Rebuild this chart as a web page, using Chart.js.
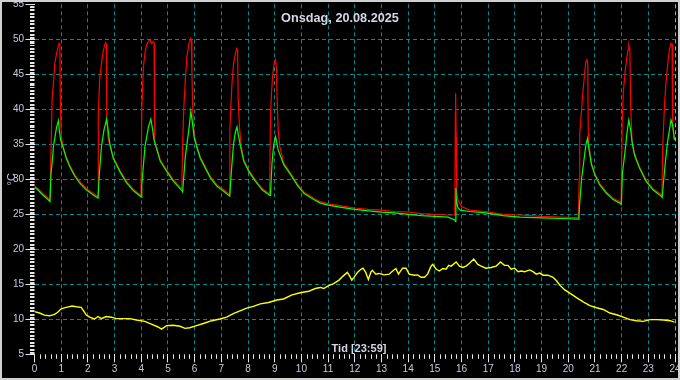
<!DOCTYPE html>
<html><head><meta charset="utf-8">
<script src="https://cdn.jsdelivr.net/npm/chart.js@4/dist/chart.umd.min.js"></script>
<style>html,body{margin:0;padding:0;background:#000;overflow:hidden}#wrap{width:680px;height:380px;position:relative}</style>
</head><body><div id="wrap"><canvas id="c" width="680" height="380"></canvas></div>
<script>
// ---- data (hours of day / °C) ----
const redHours = [0.0,0.15,0.3,0.45,0.58,0.6,0.63,0.66,0.71,0.76,0.84,0.89,0.92,0.95,0.97,1.01,1.06,1.19,1.31,1.5,1.69,1.94,2.19,2.38,
 2.39,2.44,2.51,2.57,2.63,2.67,2.69,2.71,2.76,2.82,2.95,3.2,3.45,3.7,3.99,
 4.02,4.08,4.14,4.2,4.27,4.33,4.39,4.45,4.48,4.5,4.71,4.96,5.21,5.52,
 5.55,5.59,5.65,5.71,5.79,5.85,5.88,5.9,5.93,5.98,6.0,6.09,6.21,6.4,6.59,6.84,7.09,7.31,
 7.32,7.35,7.4,7.46,7.53,7.58,7.61,7.63,7.68,7.74,7.84,8.03,8.28,8.53,8.81,
 8.84,8.88,8.93,8.99,9.03,9.06,9.09,9.13,9.19,9.34,9.59,9.84,10.09,10.46,10.71,
 11.0,11.5,12.0,12.5,13.0,13.5,14.0,14.5,15.0,15.5,15.75,
 15.77,15.78,15.8,15.82,15.87,16.0,16.3,16.9,17.55,18.2,19.0,19.7,20.38,
 20.41,20.43,20.5,20.56,20.62,20.66,20.7,20.73,20.75,20.77,20.87,20.99,21.18,21.43,21.68,21.93,21.98,
 22.0,22.02,22.07,22.14,22.2,22.24,22.27,22.31,22.34,22.39,22.48,22.67,22.92,23.17,23.48,23.51,
 23.54,23.61,23.66,23.73,23.79,23.85,23.89,23.91,23.95,23.98];
const redTemps = [29.0,28.6,28.0,27.5,27.0,31.1,36.0,41.6,43.7,46.6,48.2,49.0,49.4,49.2,39.9,36.0,34.9,33.2,32.1,30.7,29.7,28.7,28.0,27.5,
 39.0,44.2,46.6,48.2,49.2,49.5,49.3,38.5,35.8,35.0,33.2,31.3,29.7,28.6,27.7,
 39.9,46.1,48.0,49.2,49.7,49.9,49.4,49.7,49.5,35.6,32.8,31.3,29.9,28.6,
 34.7,39.9,44.2,47.5,49.4,50.1,49.8,45.0,39.9,36.5,36.1,34.7,33.2,31.8,30.4,29.2,28.5,27.8,
 37.0,39.9,43.7,46.6,48.0,48.7,48.5,41.8,37.5,34.9,32.8,31.3,29.9,28.7,27.9,
 38.7,42.3,45.1,46.8,47.1,46.0,41.8,37.0,34.7,32.3,30.9,29.4,28.2,27.3,26.8,
 26.5,26.2,25.9,25.7,25.6,25.4,25.3,25.1,25.0,24.9,24.9,
 39.5,42.3,36.0,28.2,27.0,26.1,25.6,25.4,25.0,24.9,24.7,24.6,24.5,
 30.0,36.6,39.9,43.0,45.4,46.8,47.1,46.5,36.6,35.1,32.3,30.9,29.4,28.2,27.3,26.8,26.6,
 26.6,38.1,42.8,45.7,47.5,48.5,49.2,48.5,40.3,35.6,33.7,31.8,29.9,28.7,27.8,27.6,
 34.7,40.9,43.7,46.6,48.5,49.4,49.3,38.0,36.5,35.6];

const greenHours = [0.0,0.15,0.3,0.45,0.58,0.62,0.66,0.71,0.77,0.83,0.9,0.93,0.98,1.06,1.19,1.31,1.5,1.69,1.94,2.19,2.38,
 2.44,2.51,2.6,2.7,2.76,2.82,2.95,3.2,3.45,3.7,3.99,
 4.01,4.02,4.14,4.27,4.36,4.43,4.48,4.71,4.96,5.21,5.52,
 5.55,5.65,5.78,5.86,5.92,5.98,6.09,6.21,6.4,6.59,6.84,7.09,7.31,
 7.32,7.4,7.46,7.53,7.59,7.65,7.72,7.84,8.03,8.28,8.53,8.81,
 8.84,8.9,8.96,9.03,9.06,9.13,9.34,9.59,9.84,10.09,10.46,10.71,
 11.0,11.5,12.0,12.5,13.0,13.5,14.0,14.5,15.0,15.5,15.75,15.77,15.79,15.81,15.86,15.95,16.3,16.9,17.55,18.2,19.0,19.7,20.4,
 20.42,20.5,20.58,20.66,20.72,20.78,20.87,20.99,21.18,21.43,21.68,21.93,21.99,
 22.03,22.12,22.2,22.27,22.34,22.4,22.48,22.67,22.92,23.17,23.48,23.52,
 23.6,23.66,23.72,23.79,23.85,23.91,23.98];
const greenTemps = [28.9,28.4,27.8,27.3,26.8,30.9,32.3,34.7,36.1,37.5,38.4,37.0,35.6,34.7,33.0,31.9,30.5,29.5,28.5,27.8,27.3,
 31.3,34.7,37.0,38.6,37.0,35.1,33.0,31.1,29.5,28.4,27.5,
 27.5,29.2,34.7,37.5,38.6,37.0,35.6,32.6,31.1,29.7,28.4,
 28.2,33.2,37.0,39.7,38.0,36.0,34.5,33.0,31.6,30.2,29.0,28.3,27.6,
 28.0,32.3,35.1,36.8,37.5,36.1,34.7,32.6,31.1,29.7,28.5,27.7,
 27.7,32.3,34.9,36.1,35.6,34.2,32.1,30.7,29.2,28.0,27.1,26.6,
 26.3,26.0,25.7,25.5,25.3,25.2,25.0,24.8,24.7,24.6,24.2,24.0,28.8,27.0,26.0,25.6,25.4,25.2,24.8,24.6,24.5,24.4,24.3,
 26.1,30.1,32.5,34.9,35.8,34.2,32.1,30.7,29.2,28.0,27.1,26.6,26.4,
 30.9,33.7,36.6,38.5,37.0,35.1,33.5,31.6,29.7,28.5,27.6,27.4,
 30.9,33.2,35.3,37.0,38.5,37.8,35.6];

const yellowHours = [0.0,0.19,0.37,0.56,0.75,0.87,1.0,1.19,1.41,1.56,1.75,1.84,1.94,2.07,2.25,2.38,2.5,2.69,2.88,3.07,3.32,3.57,3.82,4.13,4.38,4.63,4.76,4.95,5.2,5.45,5.64,5.82,
 6.07,6.33,6.64,6.95,7.2,7.45,7.7,7.95,8.2,8.46,8.77,9.08,9.33,9.65,9.96,10.27,10.52,10.71,10.84,11.02,11.21,11.41,11.54,11.72,11.79,11.89,11.97,
 12.1,12.23,12.31,12.41,12.51,12.6,12.66,12.79,12.91,13.1,13.29,13.42,13.54,13.64,13.79,13.92,14.04,14.23,14.36,14.48,14.61,14.73,14.86,14.92,
 15.05,15.17,15.3,15.42,15.52,15.61,15.8,15.92,16.05,16.17,16.3,16.46,16.61,16.74,16.91,17.11,17.3,17.46,17.61,17.74,17.86,17.99,
 18.12,18.24,18.37,18.55,18.68,18.8,18.93,19.06,19.24,19.43,19.56,19.68,19.87,20.06,20.31,20.56,20.81,21.06,21.31,21.56,21.81,
 22.06,22.31,22.56,22.81,23.07,23.32,23.57,23.82,23.98];
const yellowTemps = [11.1,10.9,10.6,10.5,10.7,11.0,11.5,11.7,11.9,11.8,11.7,11.2,10.6,10.3,10.05,10.4,10.1,10.4,10.3,10.1,10.1,10.1,9.9,9.7,9.3,8.9,8.6,9.1,9.15,9.0,8.7,8.8,
 9.1,9.4,9.8,10.05,10.3,10.8,11.2,11.6,11.85,12.2,12.4,12.75,12.9,13.5,13.8,14.0,14.4,14.55,14.4,14.8,15.1,15.6,16.1,16.7,16.3,15.6,16.0,
 16.7,17.15,17.3,16.7,15.7,16.7,17.0,16.45,16.55,16.35,16.45,16.9,17.25,16.45,17.3,17.3,16.45,16.3,16.35,16.0,16.0,16.45,17.6,17.85,
 17.15,16.9,17.25,17.15,17.7,17.6,18.2,17.6,17.4,17.6,18.0,18.6,17.85,17.6,17.3,17.4,17.6,18.2,17.7,17.7,17.15,17.3,
 16.8,16.9,16.8,17.05,16.8,16.45,16.6,16.3,16.3,16.0,15.5,14.9,14.2,13.75,13.1,12.5,11.95,11.65,11.4,10.9,10.65,
 10.3,9.95,9.8,9.7,9.95,9.95,9.9,9.8,9.6];

// ---- axis labels ----
const hourLabels = ['0','1','2','3','4','5','6','7','8','9','10','11','12','13','14','15','16','17','18','19','20','21','22','23','24'];
const tempLabels = ['5','10','15','20','25','30','35','40','45','50','55'];
const titleText = 'Onsdag, 20.08.2025';
const xTitle = 'Tid [23:59]';
const yTitle = '°C';

const pts = (h, t) => h.map((x, i) => ({x, y: t[i]}));
const FONT = '"Liberation Sans", Arial, sans-serif';
const LABEL = '#c4ccdc';
const TEAL = '#008c8c';

const extras = {
  id: 'extras',
  beforeDraw(chart) {
    const c = chart.ctx; c.save(); c.fillStyle = '#000'; c.fillRect(0, 0, chart.width, chart.height); c.restore();
  },
  afterDraw(chart) {
    const c = chart.ctx, xs = chart.scales.x, ys = chart.scales.y, a = chart.chartArea;
    c.save();
    c.strokeStyle = '#e8e8e8'; c.lineWidth = 1;
    c.beginPath();
    for (let i = 0; i <= 250; i++) {
      if (i % 5 === 0) continue;
      const py = Math.round(ys.getPixelForValue(5 + i / 5)) + 0.5;
      c.moveTo(a.left - 4.5, py); c.lineTo(a.left, py);
    }
    for (let i = 0; i <= 120; i++) {
      if (i % 5 === 0) continue;
      const px = Math.round(xs.getPixelForValue(i / 5)) + 0.5;
      c.moveTo(px, a.bottom); c.lineTo(px, a.bottom + 4.5);
    }
    c.stroke();
    c.fillStyle = '#d6d6e6';
    c.textAlign = 'center'; c.textBaseline = 'middle';
    c.font = 'bold 12.7px ' + FONT;
    c.fillText(titleText, chart.width / 2, 18);
    c.font = 'bold 11px ' + FONT;
    c.fillText(xTitle, 359, 349);
    c.strokeStyle = '#d0d0d0'; c.lineWidth = 2;
    c.strokeRect(1, 1, chart.width - 2, chart.height - 2);
    c.restore();
  }
};

new Chart(document.getElementById('c'), {
  type: 'line',
  data: {
    datasets: [
      {data: pts(yellowHours, yellowTemps), borderColor: '#ffff00', borderWidth: 1.4},
      {data: pts(greenHours, greenTemps), borderColor: '#00ff00', borderWidth: 1.2},
      {data: pts(redHours, redTemps), borderColor: '#ff0000', borderWidth: 1.2}
    ]
  },
  options: {
    responsive: false, animation: false, devicePixelRatio: 1,
    elements: {point: {radius: 0}, line: {tension: 0, fill: false}},
    layout: {padding: {left: 0, right: 5, top: 4.3, bottom: 0}},
    plugins: {legend: {display: false}, tooltip: {enabled: false}, title: {display: false}},
    scales: {
      x: {
        type: 'linear', min: 0, max: 24,
        ticks: {stepSize: 1, autoSkip: false, maxRotation: 0, color: LABEL, padding: 1,
          font: {family: FONT, size: 10}, callback: v => hourLabels[v] ?? ''},
        grid: {color: c => c.tick.value === 0 ? 'rgba(0,0,0,0)' : (c.tick.value === 24 ? '#28d8f0' : TEAL),
          lineWidth: 1, tickLength: 8, tickColor: '#e8e8e8', tickBorderDash: [], tickWidth: 1},
        border: {display: false, dash: [4, 3]},
        afterFit: s => { s.height = 25.7; s.paddingLeft = 0; s.paddingRight = 0; }
      },
      y: {
        min: 5, max: 55,
        ticks: {stepSize: 5, autoSkip: false, color: LABEL, padding: 1.5,
          font: {family: FONT, size: 10}, callback: v => tempLabels[(v - 5) / 5] ?? ''},
        grid: {color: c => (c.tick.value === 5 || c.tick.value === 55) ? 'rgba(0,0,0,0)' : TEAL,
          lineWidth: 1, tickLength: 9, tickColor: '#e8e8e8', tickBorderDash: [], tickWidth: 1},
        border: {display: false, dash: [4, 3]},
        title: {display: true, text: yTitle, color: LABEL, font: {family: FONT, size: 11}, padding: {top: 5.5, bottom: 0}},
        afterFit: s => { s.width = 34.5; s.paddingTop = 0; s.paddingBottom = 0; }
      }
    }
  },
  plugins: [extras]
});
</script></body></html>
